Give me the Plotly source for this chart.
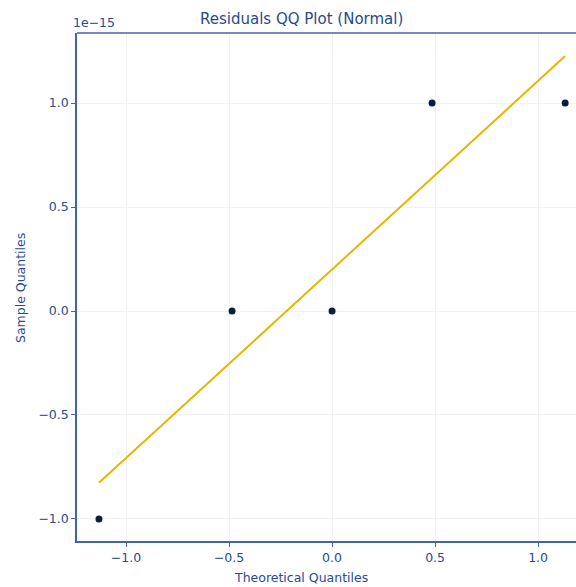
import plotly.graph_objects as go

# Data (sample values in units of 1e-15)
theoretical_q = [-1.1314, -0.4854, 0.0, 0.4854, 1.1314]
sample_q = [-1.0, 0.0, 0.0, 1.0, 1.0]
line_x = [-1.1314, 1.1314]
line_y = [-0.826, 1.226]
x_ticks = [-1.0, -0.5, 0.0, 0.5, 1.0]
y_ticks = [-1.0, -0.5, 0.0, 0.5, 1.0]

TXT = "#2a4a8f"
SPINE = "#4464aa"
FONT = "DejaVu Sans"

fig = go.Figure()
fig.add_trace(go.Scatter(x=line_x, y=line_y, mode="lines",
                         line=dict(color="#e8b600", width=2), showlegend=False))
fig.add_trace(go.Scatter(x=theoretical_q, y=sample_q, mode="markers",
                         marker=dict(color="#0b1d45", size=7), showlegend=False))

W, H = 576, 587
L, R, T, B = 77, 0, 33, 46

fig.update_layout(
    width=W, height=H,
    margin=dict(l=L, r=R, t=T, b=B),
    paper_bgcolor="white", plot_bgcolor="white",
    font=dict(family=FONT, color=TXT, size=12.5),
    xaxis=dict(range=[-1.238, 1.184], tickvals=x_ticks,
               ticktext=[("\u2212" if v < 0 else "") + f"{abs(v):.1f}" for v in x_ticks],
               showgrid=True, gridcolor="#f2f2f2", gridwidth=1,
               zeroline=False, showline=True, linecolor=SPINE, linewidth=1.5,
               mirror=False, ticks="outside", ticklen=4, tickcolor=SPINE,
               tickfont=dict(size=12.5, color=TXT)),
    yaxis=dict(range=[-1.106, 1.337], tickvals=y_ticks,
               ticktext=[("\u2212" if v < 0 else "") + f"{abs(v):.1f}" for v in y_ticks],
               showgrid=True, gridcolor="#f2f2f2", gridwidth=1,
               zeroline=False, showline=True, linecolor=SPINE, linewidth=1.5,
               ticks="outside", ticklen=4, tickcolor=SPINE,
               tickfont=dict(size=12.5, color=TXT)),
)

# top spine
fig.add_shape(type="line", xref="paper", yref="paper", x0=0, x1=1, y0=1, y1=1,
              line=dict(color=SPINE, width=1.5))

def px_x(p):
    return (p - L) / (W - L - R)

def px_y(p):
    return (H - B - p) / (H - T - B)

fig.add_annotation(text="Residuals QQ Plot (Normal)", xref="paper", yref="paper",
                   x=px_x(301), y=px_y(19), showarrow=False,
                   font=dict(size=15, color=TXT, family=FONT), xanchor="center", yanchor="middle")
fig.add_annotation(text="1e\u221215", xref="paper", yref="paper",
                   x=px_x(71), y=px_y(22), showarrow=False,
                   font=dict(size=12.5, color=TXT, family=FONT), xanchor="left", yanchor="middle")
fig.add_annotation(text="Theoretical Quantiles", xref="paper", yref="paper",
                   x=px_x(301), y=px_y(577), showarrow=False,
                   font=dict(size=12.5, color=TXT, family=FONT), xanchor="center", yanchor="middle")
fig.add_annotation(text="Sample Quantiles", xref="paper", yref="paper",
                   x=px_x(20), y=px_y(288), showarrow=False, textangle=-90,
                   font=dict(size=12.5, color=TXT, family=FONT), xanchor="center", yanchor="middle")

fig.write_html("out.html")
